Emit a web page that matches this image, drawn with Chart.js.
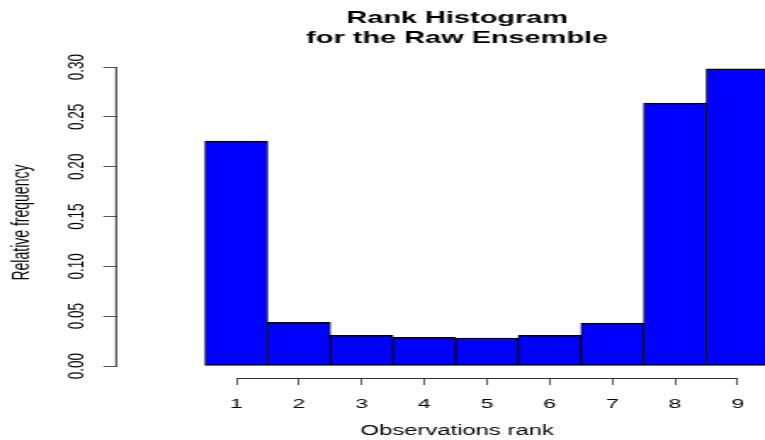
<!DOCTYPE html>
<html>
<head>
<meta charset="utf-8">
<title>Rank Histogram</title>
<script src="https://cdn.jsdelivr.net/npm/chart.js@4"></script>
<style>
  html, body { margin: 0; padding: 0; background: #fff; }
  #wrap { width: 765px; height: 440px; overflow: hidden; position: relative; }
  /* the reference picture is stretched sideways, so the canvas is too */
  #rankChart { display: block; transform: scaleX(1.7); transform-origin: 0 0; }
</style>
</head>
<body>
<div id="wrap"><canvas id="rankChart" width="469" height="440"></canvas></div>
<script>
// Data
const ranks = [1, 2, 3, 4, 5, 6, 7, 8, 9];
const relFreq = [0.2257, 0.0438, 0.0308, 0.0288, 0.0281, 0.0308, 0.0431, 0.2638, 0.2983];
const yTicks = [0, 0.05, 0.10, 0.15, 0.20, 0.25, 0.30];
const titleLines = ['Rank Histogram', 'for the Raw Ensemble'];
const xTitle = 'Observations rank';
const yTitle = 'Relative frequency';

const FONT = 'Liberation Sans, Arial, sans-serif';

// R-style axis lines: only from first to last tick
const rAxisLines = {
    id: 'rAxisLines',
    afterDraw(chart) {
        const { ctx, chartArea } = chart;
        const x = chart.scales.x;
        const y = chart.scales.y;
        ctx.save();
        ctx.strokeStyle = '#333';
        ctx.lineWidth = 1;
        ctx.beginPath();
        ctx.moveTo(x.getPixelForValue(ranks[0]), chartArea.bottom + 0.5);
        ctx.lineTo(x.getPixelForValue(ranks[ranks.length - 1]), chartArea.bottom + 0.5);
        ctx.moveTo(chartArea.left - 0.5, y.getPixelForValue(yTicks[0]));
        ctx.lineTo(chartArea.left - 0.5, y.getPixelForValue(yTicks[yTicks.length - 1]));
        ctx.stroke();
        ctx.restore();
    }
};

const ctx = document.getElementById('rankChart').getContext('2d');
new Chart(ctx, {
    type: 'bar',
    data: {
        datasets: [{
            data: ranks.map((r, i) => ({ x: r, y: relFreq[i] })),
            backgroundColor: '#0000ff',
            borderColor: '#000',
            borderWidth: { top: 1.5, bottom: 1.5, left: 0.9, right: 0.9 },
            borderSkipped: false,
            barPercentage: 1,
            categoryPercentage: 1
        }]
    },
    options: {
        responsive: false,
        devicePixelRatio: 1,
        animation: false,
        layout: { padding: 0 },
        plugins: {
            legend: { display: false },
            tooltip: { enabled: false },
            title: {
                display: true,
                text: titleLines,
                fullSize: false,
                color: '#000',
                font: { family: FONT, size: 17, weight: 'bold', lineHeight: 1.18 },
                padding: { top: 8, bottom: 19 }
            }
        },
        scales: {
            x: {
                type: 'linear',
                min: -0.9045,
                max: 9.952,
                offset: false,
                grid: { display: true, offset: false, drawOnChartArea: false, tickLength: 7, tickColor: '#555' },
                border: { display: false },
                afterBuildTicks: (scale) => { scale.ticks = ranks.map(v => ({ value: v })); },
                afterFit: (scale) => { scale.height = 62; },
                ticks: {
                    autoSkip: false,
                    maxRotation: 0,
                    padding: 11,
                    color: '#000',
                    font: { family: FONT, size: 13.5 },
                    callback: (v) => String(v)
                },
                title: {
                    display: true,
                    text: xTitle,
                    color: '#000',
                    font: { family: FONT, size: 14 },
                    padding: { top: 0, bottom: 0 }
                }
            },
            y: {
                min: -0.01204,
                max: 0.30,
                grid: { display: true, drawOnChartArea: false, tickLength: 8, tickColor: '#555' },
                border: { display: false },
                afterBuildTicks: (scale) => { scale.ticks = yTicks.map(v => ({ value: v })); },
                afterFit: (scale) => { scale.width = 68.8; },
                ticks: {
                    minRotation: 90,
                    maxRotation: 90,
                    crossAlign: 'center',
                    padding: 2,
                    color: '#000',
                    font: { family: FONT, size: 13.5 },
                    callback: (v) => v.toFixed(2)
                },
                title: {
                    display: true,
                    text: yTitle,
                    color: '#000',
                    font: { family: FONT, size: 14 },
                    padding: { top: 5, bottom: 0 }
                }
            }
        }
    },
    plugins: [rAxisLines]
});
</script>
</body>
</html>
